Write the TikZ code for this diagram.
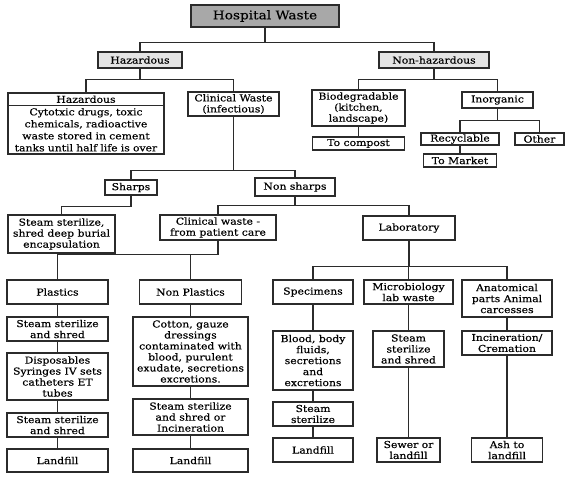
\documentclass[tikz,border=0pt]{standalone}
\usepackage{fontspec}
\setmainfont{DejaVu Serif}[FakeStretch=1.14, FakeBold=0.4]
\usetikzlibrary{positioning,shapes.multipart}
\definecolor{ink}{HTML}{2B2B2B}
\definecolor{rootgray}{HTML}{A8A8A8}
\definecolor{branchgray}{HTML}{E4E4E4}

\begin{document}
\begin{tikzpicture}[
  x=1pt, y=-1pt,
  font=\fontsize{9.5}{11}\selectfont,
  box/.style={draw=ink, line width=1.2pt, fill=white, align=center,
              inner xsep=1pt, inner ysep=0.5pt},
  root/.style={box, fill=rootgray, font=\fontsize{12}{14}\selectfont},
  branch/.style={box, fill=branchgray},
  link/.style={draw=ink, line width=1.2pt},
]
\useasboundingbox (0,0) rectangle (576,482);

\node[root, minimum width=148pt, minimum height=22pt] (hw) at (265,16) {Hospital Waste};
\node[branch, minimum width=84pt, minimum height=16pt] (haz) at (140,60) {Hazardous};
\node[branch, minimum width=110pt, minimum height=16pt] (nonhaz) at (434,60) {Non-hazardous};

% hazardous side
\node[box, rectangle split, rectangle split parts=2, text width=154pt,
      inner ysep=2pt, font=\fontsize{9.5}{12}\selectfont]
  (hazinfo) at (86,123.5)
  {Hazardous
   \nodepart{second} Cytotxic drugs, toxic\\ chemicals, radioactive\\
   waste stored in cement\\ tanks until half life is over};
\node[box, minimum width=91pt, minimum height=24pt] (clin) at (233.5,104) {Clinical Waste\\ (infectious)};

% non-hazardous side
\node[box, minimum width=93pt, minimum height=36pt] (bio) at (358.5,108) {Biodegradable\\ (kitchen,\\ landscape)};
\node[box, minimum width=71pt, minimum height=16pt] (inorg) at (497.5,100) {Inorganic};
\node[box, minimum width=92pt, minimum height=13pt] (compost) at (358.5,143.5) {To compost};
\node[box, minimum width=78pt, minimum height=12pt] (recyc) at (460,139) {Recyclable};
\node[box, minimum width=49pt, minimum height=12pt] (other) at (539.5,139) {Other};
\node[box, minimum width=73pt, minimum height=13pt] (market) at (460,160.5) {To Market};

% clinical waste
\node[box, minimum width=52pt, minimum height=15pt] (sharps) at (131,187.5) {Sharps};
\node[box, minimum width=80pt, minimum height=18pt] (nonsharps) at (295,187) {Non sharps};
\node[box, minimum width=107pt, minimum height=38pt] (shredburial) at (61.5,234)
  {Steam sterilize,\\ shred deep burial\\ encapsulation};
\node[box, minimum width=116pt, minimum height=25pt] (patient) at (218,227.5) {Clinical waste -\\ from patient care};
\node[box, minimum width=92pt, minimum height=24pt] (lab) at (409,228) {Laboratory};

% patient care
\node[box, minimum width=101pt, minimum height=24pt] (plastics) at (57.5,292) {Plastics};
\node[box, minimum width=101pt, minimum height=24pt] (pshred) at (57.5,329) {Steam sterilize\\ and shred};
\node[box, minimum width=101pt, minimum height=47pt] (disposables) at (57.5,376.5)
  {Disposables\\ Syringes IV sets\\ catheters ET\\ tubes};
\node[box, minimum width=101pt, minimum height=24pt] (pshredb) at (57.5,425) {Steam sterilize\\ and shred};
\node[box, minimum width=101pt, minimum height=23pt] (pland) at (57.5,460.5) {Landfill};

\node[box, minimum width=102pt, minimum height=24pt] (nonplastics) at (190.5,292) {Non Plastics};
\node[box, minimum width=115pt, minimum height=69pt] (cotton) at (190.5,351.5)
  {Cotton, gauze\\ dressings\\ contaminated with\\ blood, purulent\\
   exudate, secretions\\ excretions.};
\node[box, minimum width=115pt, minimum height=36pt] (nshred) at (190.5,417)
  {Steam sterilize\\ and shred or\\ Incineration};
\node[box, minimum width=115pt, minimum height=23pt] (nland) at (190.5,460.5) {Landfill};

% laboratory
\node[box, minimum width=80pt, minimum height=24pt] (specimens) at (313,292) {Specimens};
\node[box, minimum width=80pt, minimum height=59pt] (blood) at (313,360.5)
  {Blood, body\\ fluids,\\ secretions\\ and\\ excretions};
\node[box, minimum width=80pt, minimum height=24pt] (ssteam) at (313,414) {Steam\\ sterilize};
\node[box, minimum width=80pt, minimum height=24pt] (sland) at (313,450) {Landfill};

\node[box, minimum width=89pt, minimum height=24pt] (micro) at (408.5,292) {Microbiology\\ lab waste};
\node[box, minimum width=71pt, minimum height=36pt] (mshred) at (408.5,349) {Steam\\ sterilize\\ and shred};
\node[box, minimum width=63pt, minimum height=24pt] (sewer) at (408.5,450) {Sewer or\\ landfill};

\node[box, minimum width=90pt, minimum height=37pt] (anatomical) at (507,298.5)
  {Anatomical\\ parts Animal\\ carcesses};
\node[box, minimum width=90pt, minimum height=24pt] (incineration) at (507,343) {Incineration/\\ Cremation};
\node[box, minimum width=71pt, minimum height=24pt] (ash) at (507,450) {Ash to\\ landfill};

% tree connectors
\foreach \c in {haz, nonhaz}
  \draw[link] (hw.south) -- ++(0,15) -| (\c.north);
\foreach \c in {hazinfo, clin}
  \draw[link] (haz.south) -- ++(0,11) -| (\c.north);
\foreach \c in {bio, inorg}
  \draw[link] (nonhaz.south) -- ++(0,11) -| (\c.north);
\foreach \c in {recyc, other}
  \draw[link] (inorg.south) -- ++(0,12) -| (\c.north);
\foreach \c in {sharps, nonsharps}
  \draw[link] (clin.south) -- ++(0,54) -| (\c.north);
\draw[link] (sharps.south) -- ++(0,11) -| (shredburial.north);
\foreach \c in {patient, lab}
  \draw[link] (nonsharps.south) -- ++(0,9) -| (\c.north);
\foreach \c in {plastics, nonplastics}
  \draw[link] (patient.south) -- ++(0,14) -| (\c.north);
\foreach \c in {specimens, micro, anatomical}
  \draw[link] (lab.south) -- ++(0,26) -| (\c.north);

% straight chains
\foreach \a/\b in {bio/compost, recyc/market,
                   plastics/pshred, pshred/disposables, disposables/pshredb,
                   pshredb/pland, nonplastics/cotton, cotton/nshred, nshred/nland,
                   specimens/blood, blood/ssteam, ssteam/sland,
                   micro/mshred, mshred/sewer,
                   anatomical/incineration, incineration/ash}
  \draw[link] (\a) -- (\b);

\end{tikzpicture}
\end{document}
